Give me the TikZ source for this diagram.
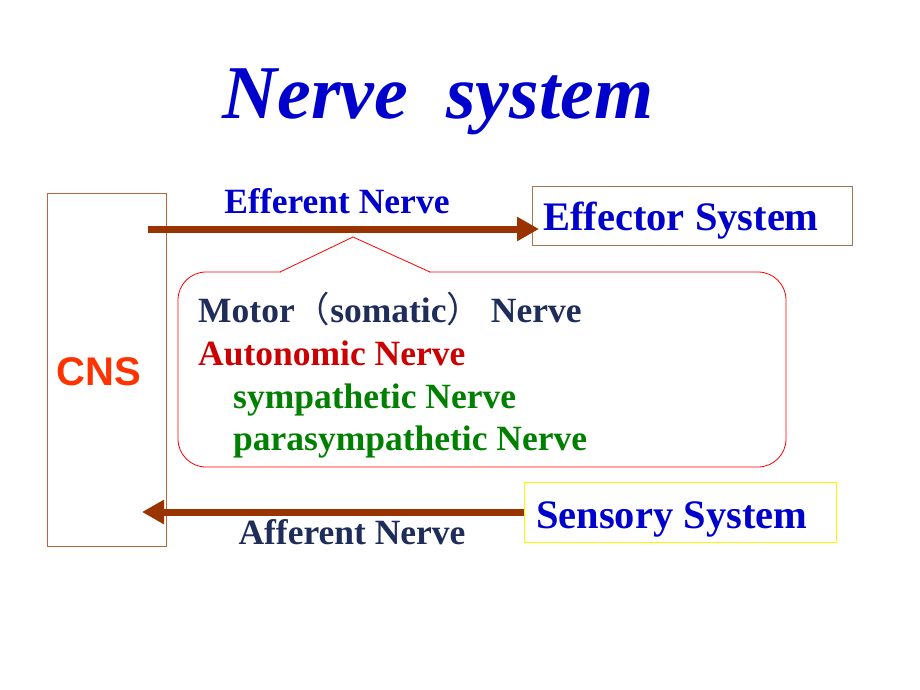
\documentclass[tikz,border=0pt]{standalone}
\usepackage{fontspec}
\setmainfont{Liberation Serif}
\setsansfont{Liberation Sans}
\newfontfamily\cjkfont{Noto Sans CJK SC}
\usetikzlibrary{arrows.meta}
\definecolor{tblue}{RGB}{0,0,204}
\definecolor{tnavy}{RGB}{31,45,90}
\definecolor{tred}{RGB}{204,0,0}
\definecolor{tgreen}{RGB}{0,128,0}
\definecolor{arrbrown}{RGB}{153,51,0}
\definecolor{cnsorange}{RGB}{255,51,0}
\definecolor{cnsbox}{RGB}{190,100,60}
\definecolor{effbox}{RGB}{160,120,80}
\definecolor{sensbox}{RGB}{255,245,0}
\tikzset{
  txt/.style={inner sep=0pt, font=\fontsize{35.5}{40}\selectfont\bfseries},
  bigtxt/.style={inner sep=0pt, font=\fontsize{40.5}{44}\selectfont\bfseries, text=tblue},
  nervearrow/.style={draw=arrbrown, line width=7pt, -{Triangle[length=22pt,width=23pt]}},
  plainbox/.style={draw, line width=1pt, inner sep=0pt}
}
\begin{document}
\begin{tikzpicture}[x=1pt,y=-1pt]
\useasboundingbox (0,0) rectangle (920,690);
% title
\node[inner sep=0pt, anchor=base, text=tblue, font=\fontsize{76}{80}\selectfont\bfseries\itshape] (title) at (438,118) {Nerve\ \ system};
% CNS
\node[plainbox, draw=cnsbox, minimum width=119pt, minimum height=353pt] (cns) at (106.5,369.5) {};
\node[inner sep=0pt, anchor=base, text=cnsorange, font=\fontsize{40}{44}\sffamily\bfseries] (cnstext) at (99,385) {CNS};
% Effector
\node[plainbox, draw=effbox, minimum width=320pt, minimum height=59pt] (eff) at (692,215.5) {};
\node[bigtxt, anchor=base west] (efftext) at (543,230) {Effector System};
% Sensory
\node[plainbox, draw=sensbox, minimum width=312pt, minimum height=60pt] (sens) at (680.5,512) {};
\node[bigtxt, anchor=base west] (senstext) at (536,528) {Sensory System};
% arrows
\coordinate (effstart) at (148,229);
\coordinate (efftip) at (539,229);
\coordinate (afftip) at (142,512);
\draw[nervearrow] (effstart) -- (efftip);
\draw[nervearrow] (sens.west) -- (afftip);
\node[txt, anchor=base, text=tblue] (efflabel) at (337,213) {Efferent Nerve};
\node[txt, anchor=base, text=tnavy] (afflabel) at (352,544) {Afferent Nerve};
% callout
\node[draw=red, line width=0.8pt, rounded corners=28pt, minimum width=608pt, minimum height=195pt, inner sep=0pt] (callout) at (482,369.5) {};
\fill[white] (281,270.5) rectangle (429,273.5);
\coordinate (ptrl) at (280,272);
\coordinate (ptrtop) at (353,237);
\coordinate (ptrr) at (430,272);
\draw[red, line width=0.8pt, line join=miter] (ptrl) -- (ptrtop) -- (ptrr);
% callout text
\node[txt, anchor=base west, text=tnavy] (motor) at (198,322) {Motor{\cjkfont\fontseries{m}\selectfont （}somatic{\cjkfont\fontseries{m}\selectfont ）} Nerve};
\node[txt, anchor=base west, text=tred] (auto) at (198,365) {Autonomic Nerve};
\node[txt, anchor=base west, text=tgreen] (symp) at (233,408) {sympathetic Nerve};
\node[txt, anchor=base west, text=tgreen] (para) at (233,450) {parasympathetic Nerve};
\end{tikzpicture}
\end{document}
